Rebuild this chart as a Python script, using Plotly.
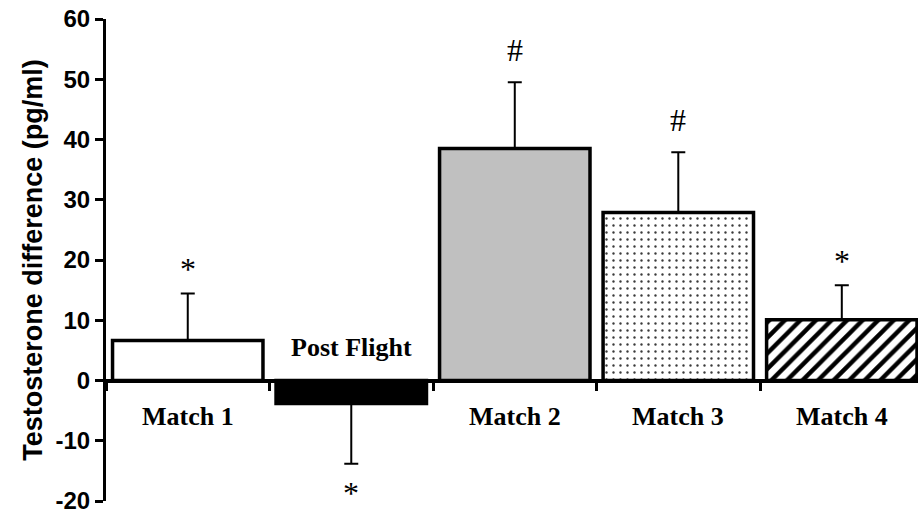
import plotly.graph_objects as go

categories = ["Match 1", "Post Flight", "Match 2", "Match 3", "Match 4"]
values = [6.65, -3.8, 38.5, 27.9, 10.1]
err_plus = [7.8, 0.0, 11.0, 10.0, 5.7]
err_minus = [0.0, 10.0, 0.0, 0.0, 0.0]
sig_marks = ["*", "*", "#", "#", "*"]
y_ticks = [-20, -10, 0, 10, 20, 30, 40, 50, 60]

fill_colors = ["white", "black", "#c0c0c0", "white", "white"]
pattern_shapes = ["", "", "", ".", "/"]
pattern_fg = ["black", "black", "black", "#3a3a3a", "black"]
pattern_size = [8, 8, 8, 7, 11]
pattern_solidity = [0.3, 0.3, 0.3, 0.09, 0.4]

SERIF = "Liberation Serif, Times New Roman, serif"
SANS = "Liberation Sans, Arial, sans-serif"

fig = go.Figure()
for i, cat in enumerate(categories):
    marker = dict(color=fill_colors[i], line=dict(color="black", width=3.5))
    if pattern_shapes[i]:
        marker["pattern"] = dict(
            shape=pattern_shapes[i],
            fgcolor=pattern_fg[i],
            bgcolor=fill_colors[i],
            size=pattern_size[i],
            solidity=pattern_solidity[i],
            fillmode="replace",
        )
    fig.add_trace(go.Bar(
        x=[cat],
        y=[values[i]],
        width=0.92,
        marker=marker,
        error_y=dict(
            type="data",
            symmetric=False,
            array=[err_plus[i]],
            arrayminus=[err_minus[i]],
            thickness=2,
            width=7,
            color="black",
        ),
        showlegend=False,
        hoverinfo="skip",
    ))

annotations = []
for cat, v, ep, em, mark in zip(categories, values, err_plus, err_minus, sig_marks):
    up_shift = 12 if mark == "#" else 4
    if v >= 0:
        annotations.append(dict(x=cat, y=0, xref="x", yref="y", text=f"<b>{cat}</b>",
                                showarrow=False, yanchor="top", yshift=-19,
                                font=dict(family=SERIF, size=26, color="black")))
        annotations.append(dict(x=cat, y=v + ep, xref="x", yref="y", text=mark,
                                showarrow=False, yanchor="bottom", yshift=up_shift,
                                font=dict(family=SERIF, size=32, color="black")))
    else:
        annotations.append(dict(x=cat, y=0, xref="x", yref="y", text=f"<b>{cat}</b>",
                                showarrow=False, yanchor="bottom", yshift=17,
                                font=dict(family=SERIF, size=26, color="black")))
        annotations.append(dict(x=cat, y=v - em, xref="x", yref="y", text=mark,
                                showarrow=False, yanchor="top", yshift=-9,
                                font=dict(family=SERIF, size=32, color="black")))

fig.update_layout(
    width=918,
    height=519,
    margin=dict(l=106, r=0, t=19, b=18),
    paper_bgcolor="white",
    plot_bgcolor="white",
    barmode="overlay",
    annotations=annotations,
    xaxis=dict(
        type="category",
        categoryorder="array",
        categoryarray=categories,
        range=[-0.5, 4.466],
        anchor="free",
        position=0.25,
        showline=True,
        linecolor="black",
        linewidth=4,
        ticks="outside",
        tickson="boundaries",
        ticklen=8,
        tickwidth=3,
        tickcolor="black",
        showticklabels=False,
        showgrid=False,
        zeroline=False,
    ),
    yaxis=dict(
        range=[-20, 60],
        tickvals=y_ticks,
        ticktext=[str(t) for t in y_ticks],
        showline=True,
        linecolor="black",
        linewidth=3,
        ticks="outside",
        ticklen=8,
        tickwidth=3,
        tickcolor="black",
        showgrid=False,
        zeroline=False,
        tickfont=dict(family=SANS, size=24, color="black", weight="bold"),
        title=dict(text="Testosterone difference (pg/ml)", standoff=6,
                   font=dict(family=SANS, size=27, color="black", weight="bold")),
    ),
)

fig.write_html(
    "out.html",
    config={"displayModeBar": False},
    post_script="document.body.style.margin='0';document.body.style.overflow='hidden';",
)
